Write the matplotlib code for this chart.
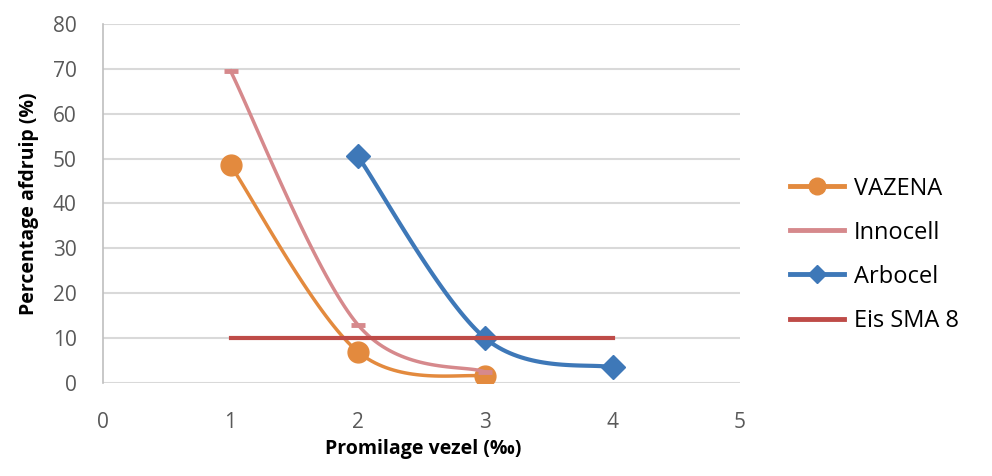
import numpy as np
import matplotlib
matplotlib.use("Agg")
import matplotlib.pyplot as plt

plt.rcParams["font.family"] = ["Open Sans", "DejaVu Sans"]

vazena_x = [1, 2, 3]
vazena_y = [48.5, 7, 1.5]
innocell_x = [1, 2, 3]
innocell_y = [69.5, 13, 2.5]
arbocel_x = [2, 3, 4]
arbocel_y = [50.5, 10, 3.5]
eis_x = [1, 2, 3, 4]
eis_y = [10, 10, 10, 10]

x_ticks = [0, 1, 2, 3, 4, 5]
y_ticks = [0, 10, 20, 30, 40, 50, 60, 70, 80]


def smooth(xs, ys, n=40, tension=0.5):
    """Cardinal spline through the points, like Excel's smoothed line."""
    xs = np.asarray(xs, dtype=float)
    ys = np.asarray(ys, dtype=float)
    if len(xs) < 3:
        return xs, ys
    px = np.concatenate([[xs[0]], xs, [xs[-1]]])
    py = np.concatenate([[ys[0]], ys, [ys[-1]]])
    t = np.linspace(0, 1, n)
    h00 = 2 * t**3 - 3 * t**2 + 1
    h10 = t**3 - 2 * t**2 + t
    h01 = -2 * t**3 + 3 * t**2
    h11 = t**3 - t**2
    ox, oy = [], []
    for i in range(1, len(px) - 2):
        m1x = tension * (px[i + 1] - px[i - 1])
        m1y = tension * (py[i + 1] - py[i - 1])
        m2x = tension * (px[i + 2] - px[i])
        m2y = tension * (py[i + 2] - py[i])
        ox.append(h00 * px[i] + h10 * m1x + h01 * px[i + 1] + h11 * m2x)
        oy.append(h00 * py[i] + h10 * m1y + h01 * py[i + 1] + h11 * m2y)
    return np.concatenate(ox), np.concatenate(oy)


fig = plt.figure(figsize=(9.92, 4.76), dpi=100)
ax = fig.add_axes([0.104, 0.195, 0.642, 0.755])

c_vaz = "#E38A3E"
c_inn = "#D6898C"
c_arb = "#3E78B8"
c_eis = "#BE4B48"

sx, sy = smooth(vazena_x, vazena_y)
ax.plot(sx, sy, color=c_vaz, lw=2.5)
ax.plot(vazena_x, vazena_y, "o", color=c_vaz, ms=15)

sx, sy = smooth(innocell_x, innocell_y)
ax.plot(sx, sy, color=c_inn, lw=2.5)
ax.plot(innocell_x, innocell_y, "_", color=c_inn, ms=10, mew=3.5)

sx, sy = smooth(arbocel_x, arbocel_y)
ax.plot(sx, sy, color=c_arb, lw=3)
ax.plot(arbocel_x, arbocel_y, "D", color=c_arb, ms=12)

ax.plot(eis_x, eis_y, color=c_eis, lw=3)

ax.set_xlim(0, 5)
ax.set_ylim(0, 80)
ax.set_yticks(y_ticks)
ax.set_xticks(x_ticks)
ax.grid(axis="y", color="#D9D9D9", lw=1.5)
ax.set_axisbelow(True)
for s in ["top", "right", "bottom"]:
    ax.spines[s].set_visible(False)
ax.spines["left"].set_color("#BFBFBF")
ax.spines["left"].set_linewidth(1.2)
ax.tick_params(axis="x", length=0, pad=21, labelsize=15, labelcolor="#595959")
ax.tick_params(axis="y", length=0, pad=19, labelsize=15, labelcolor="#595959")

ax.set_xlabel("Promilage vezel (‰)", fontsize=14, fontweight="bold")
ax.xaxis.set_label_coords(0.503, -0.155)
ax.set_ylabel("Percentage afdruip (%)", fontsize=14, fontweight="bold", labelpad=10)

handles = [
    plt.Line2D([], [], color=c_vaz, lw=3.5, marker="o", ms=12),
    plt.Line2D([], [], color=c_inn, lw=3.5),
    plt.Line2D([], [], color=c_arb, lw=3.5, marker="D", ms=9),
    plt.Line2D([], [], color=c_eis, lw=3.5),
]
labels = ["VAZENA", "Innocell", "Arbocel", "Eis SMA 8"]
fig.legend(handles, labels, loc="center left", bbox_to_anchor=(0.775, 0.465),
           frameon=False, fontsize=17, handlelength=2.3, labelspacing=0.85,
           handletextpad=0.4)

fig.savefig("out.png", dpi=100)
